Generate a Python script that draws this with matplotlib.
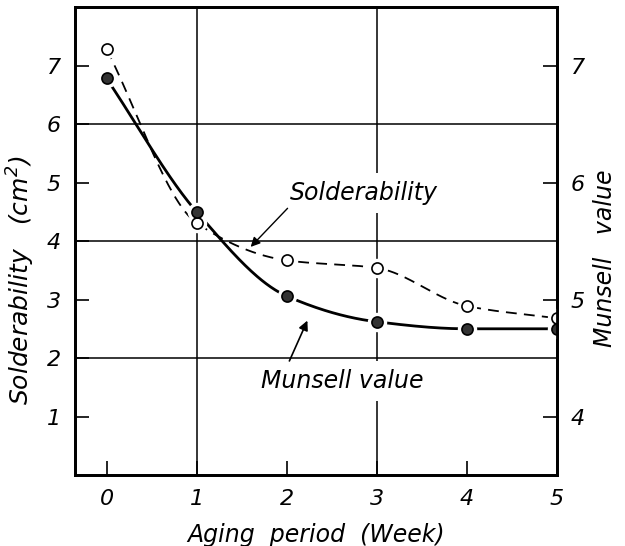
import numpy as np
import matplotlib
matplotlib.use("Agg")
import matplotlib.pyplot as plt

# values
weeks = [0, 1, 2, 3, 4, 5]
solderability = [7.28, 4.31, 3.67, 3.54, 2.89, 2.68]   # cm^2, open circles
munsell = [6.89, 5.75, 5.03, 4.81, 4.75, 4.75]         # Munsell value, filled circles

left_ticks = [1, 2, 3, 4, 5, 6, 7]
right_ticks = [4, 5, 6, 7]


def pchip(x, y, xn):
    # monotone cubic, just to draw the hand-smoothed curves through the points
    x = np.asarray(x, float); y = np.asarray(y, float)
    h = np.diff(x); d = np.diff(y) / h
    m = np.zeros_like(y)
    for k in range(1, len(x) - 1):
        if d[k-1] * d[k] > 0:
            w1 = 2*h[k] + h[k-1]; w2 = h[k] + 2*h[k-1]
            m[k] = (w1 + w2) / (w1/d[k-1] + w2/d[k])
    m[0] = d[0]; m[-1] = d[-1]
    i = np.clip(np.searchsorted(x, xn) - 1, 0, len(x) - 2)
    t = (xn - x[i]) / h[i]
    h00 = 2*t**3 - 3*t**2 + 1; h10 = t**3 - 2*t**2 + t
    h01 = -2*t**3 + 3*t**2; h11 = t**3 - t**2
    return h00*y[i] + h10*h[i]*m[i] + h01*y[i+1] + h11*h[i]*m[i+1]


def to_left(m):
    # Munsell scale -> left axis scale (4 -> 1, 7 -> 7)
    return 1 + 2 * (np.asarray(m, float) - 4)


plt.rcParams['font.family'] = 'DejaVu Sans'
plt.rcParams['font.style'] = 'italic'

fig = plt.figure(figsize=(6.25, 5.46), dpi=100)
ax = fig.add_axes([0.12, 0.130, 0.771, 0.857])

# grid lines of the original
for yv in [2, 4, 6]:
    ax.axhline(yv, color='black', lw=1.1, zorder=1)
for xv in [1, 3]:
    ax.axvline(xv, color='black', lw=1.1, zorder=1)

xs = np.linspace(0, 5, 300)
ax.plot(xs, pchip(weeks, solderability, xs), color='black', lw=1.3,
        dashes=(6, 4), zorder=2)
mus = to_left(munsell)
ax.plot(xs, pchip(weeks, mus, xs), color='black', lw=2.0, zorder=2)

# white halos so lines break around the points, like the drawing
ax.plot(weeks, solderability, 'o', ms=13, color='white', zorder=3)
ax.plot(weeks, mus, 'o', ms=13, color='white', zorder=3)
ax.plot(weeks, solderability, 'o', ms=8, mfc='white', mec='black', mew=1.2, zorder=4)
ax.plot(weeks, mus, 'o', ms=8, mfc='#333333', mec='black', mew=1.2, zorder=4)

# labels on the curves, with their pointer arrows
ax.text(2.04, 4.82, 'Solderability', fontsize=17, va='center', ha='left',
        bbox=dict(fc='white', ec='none', pad=6), zorder=5)
ax.annotate('', xy=(1.6, 3.9), xytext=(2.01, 4.56),
            arrowprops=dict(arrowstyle='-|>', color='black', lw=1.0,
                            shrinkA=0, shrinkB=0, mutation_scale=14), zorder=5)
ax.text(1.71, 1.61, 'Munsell value', fontsize=17, va='center', ha='left',
        bbox=dict(fc='white', ec='none', pad=6), zorder=5)
ax.annotate('', xy=(2.23, 2.64), xytext=(2.03, 1.95),
            arrowprops=dict(arrowstyle='-|>', color='black', lw=1.2,
                            shrinkA=0, shrinkB=0, mutation_scale=14), zorder=5)

ax.set_xlim(-0.35, 5.0)
ax.set_ylim(0, 8)
ax.set_xticks(weeks)
ax.set_yticks(left_ticks)
ax.tick_params(direction='in', length=10, width=1.2, labelsize=16, pad=10)
ax.set_xlabel('Aging  period  (Week)', fontsize=17)
ax.xaxis.set_label_coords(0.5, -0.103)
ax.set_ylabel('Solderability   (cm$^2$)', fontsize=18)
ax.yaxis.set_label_coords(-0.078, 0.415)
for s in ax.spines.values():
    s.set_linewidth(2)

ax2 = ax.twinx()
ax2.set_ylim(3.5, 7.5)
ax2.set_yticks(right_ticks)
ax2.tick_params(direction='in', length=10, width=1.2, labelsize=16, pad=10)
ax2.set_ylabel('Munsell   value', fontsize=17, rotation=90)
ax2.yaxis.set_label_coords(1.075, 0.464)
for s in ax2.spines.values():
    s.set_linewidth(2)

fig.savefig('out.png', dpi=100)
